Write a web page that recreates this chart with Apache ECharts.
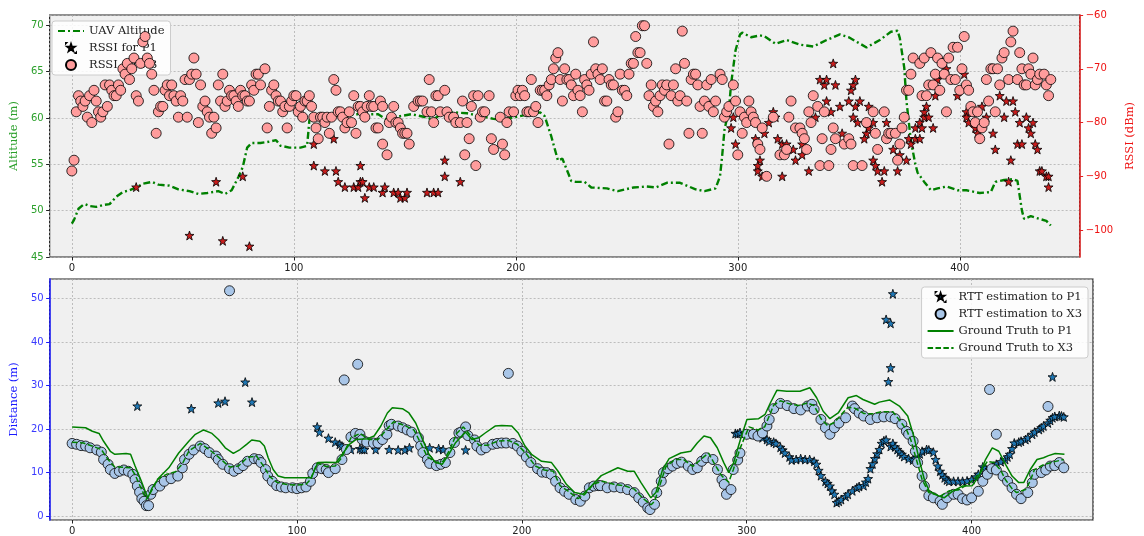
<!DOCTYPE html>
<html>
<head>
<meta charset="utf-8">
<title>UAV altitude / RSSI / RTT</title>
<script src="https://cdn.jsdelivr.net/npm/echarts@6.0.0/dist/echarts.min.js"></script>
<style>
  html, body { margin: 0; padding: 0; background: #fff; }
  #chart { width: 1144px; height: 536px; }
</style>
</head>
<body>
<div id="chart"></div>
<script>
// ---- data (sample index, value) ----
// top panel: UAV altitude (m, left axis)
const altitude = [[0,48.6],[1,49.0],[2,49.6],[3,50.2],[5,50.6],[6,50.7],[8,50.5],[11,50.4],[14,50.6],[17,50.7],[20,51.5],[23,52.0],[26,52.2],[29,52.5],[32,52.9],[36,53.1],[39,52.8],[44,52.7],[48,52.3],[53,52.1],[57,51.8],[61,51.9],[66,52.1],[69,51.8],[72,52.2],[75,53.6],[77,54.7],[79,56.8],[81,57.3],[85,57.3],[88,57.4],[92,57.6],[94,57.0],[98,56.8],[103,56.8],[106,57.0],[107,59.7],[108,60.4],[112,60.4],[117,60.3],[122,60.2],[127,60.4],[132,60.4],[138,60.4],[142,59.8],[148,60.2],[153,60.4],[159,60.1],[163,59.8],[166,60.4],[172,60.6],[178,60.5],[184,60.2],[190,59.9],[194,59.8],[200,60.1],[206,60.4],[211,60.6],[213,60.2],[216,58.0],[219,55.4],[221,55.6],[225,53.2],[227,53.1],[231,53.1],[234,52.5],[241,52.4],[246,52.1],[253,52.5],[259,52.6],[263,52.5],[268,53.0],[274,53.0],[277,52.7],[281,52.3],[285,52.1],[290,52.4],[292,53.7],[293,56.0],[294,58.7],[296,60.9],[297,63.7],[299,67.3],[301,69.0],[302,69.2],[306,68.7],[310,68.9],[312,68.8],[317,68.0],[322,68.4],[328,67.9],[334,67.7],[340,68.4],[346,69.0],[350,68.7],[358,67.6],[364,68.4],[369,69.3],[372,69.4],[373,68.6],[375,65.4],[376,61.8],[378,57.5],[380,55.0],[381,54.1],[384,53.1],[387,52.2],[390,52.4],[394,52.6],[399,52.2],[403,52.2],[409,51.9],[414,52.0],[416,53.1],[420,53.3],[424,53.4],[426,53.2],[428,50.0],[429,49.1],[432,49.4],[436,49.1],[439,48.9],[441,48.4]];

// top panel: RSSI for P1 (dBm, right axis)
const rssiP1 = [[29,-92],[53,-101],[65,-91],[68,-102],[77,-90],[80,-103],[109,-88],[109,-84],[114,-89],[118,-83],[119,-89],[120,-91],[123,-92],[127,-92],[129,-92],[130,-88],[130,-91],[131,-91],[132,-94],[134,-92],[136,-92],[140,-93],[141,-92],[145,-93],[147,-93],[148,-94],[150,-94],[151,-93],[160,-93],[163,-93],[165,-93],[168,-90],[168,-87],[175,-91],
  [297,-81],[298,-79],[299,-84],[308,-83],[309,-89],[310,-87],[309,-88],[311,-90],[312,-82],[314,-80],[316,-78],[317,-79],[318,-83],[320,-84],[320,-90],[322,-84],[325,-85],[326,-87],[329,-86],[329,-84],[332,-89],[335,-79],[337,-72],[339,-73],[340,-72],[343,-69],[344,-73],[340,-76],[342,-78],[346,-77],[347,-82],[350,-76],[351,-74],[352,-73],[353,-72],[352,-79],[353,-77],[354,-80],[355,-76],[358,-80],[359,-77],[358,-82],[357,-83],[359,-81],[361,-80],[361,-87],[362,-88],[363,-89],[365,-91],[366,-89],[367,-80],[370,-85],[372,-89],[373,-86],[376,-87],[377,-83],[378,-84],[380,-83],[382,-80],[382,-83],[380,-81],[383,-81],[384,-79],[384,-78],[385,-77],[386,-79],[388,-81],[389,-75],[390,-72],[392,-71],[394,-70],[399,-75],[402,-71],[403,-78],[403,-79],[404,-80],[407,-81],[408,-82],[410,-77],[412,-79],[415,-82],[416,-85],[418,-75],[420,-79],[421,-76],[424,-76],[425,-78],[423,-87],[422,-91],[426,-84],[428,-84],[427,-80],[430,-79],[431,-81],[432,-82],[433,-80],[434,-84],[435,-85],[436,-89],[437,-89],[439,-90],[440,-90],[440,-92]];

// top panel: RSSI for X3 (dBm, right axis)
const rssiX3 = [[0,-89],[1,-87],[2,-78],[3,-75],[4,-76],[5,-77],[6,-76],[7,-79],[8,-75],[9,-80],[10,-74],[11,-76],[12,-78],[13,-79],[14,-78],[15,-73],[16,-77],[17,-73],[18,-74],[19,-75],[20,-75],[21,-73],[22,-74],[23,-70],[24,-71],[25,-69],[26,-72],[27,-70],[28,-68],[29,-75],[30,-76],[31,-69],[32,-65],[33,-64],[34,-68],[35,-69],[36,-71],[37,-74],[38,-82],[39,-78],[40,-77],[41,-77],[42,-74],[43,-73],[44,-75],[45,-73],[46,-75],[47,-76],[48,-79],[49,-75],[50,-76],[51,-72],[52,-79],[53,-72],[54,-71],[55,-68],[56,-71],[57,-80],[58,-73],[59,-77],[60,-76],[61,-78],[62,-79],[63,-82],[64,-79],[65,-81],[66,-73],[67,-76],[68,-71],[69,-77],[70,-76],[71,-74],[72,-75],[73,-75],[74,-76],[75,-77],[76,-74],[77,-75],[78,-75],[79,-76],[80,-76],[81,-73],[82,-74],[83,-71],[84,-71],[85,-73],[87,-70],[88,-81],[89,-77],[90,-74],[91,-73],[92,-75],[93,-76],[94,-76],[95,-78],[96,-77],[97,-81],[98,-77],[99,-76],[100,-75],[101,-75],[102,-78],[103,-77],[104,-79],[105,-76],[106,-76],[107,-75],[108,-77],[109,-79],[110,-81],[111,-83],[112,-79],[113,-79],[114,-80],[115,-79],[116,-82],[117,-79],[118,-72],[119,-74],[120,-78],[121,-78],[122,-79],[123,-81],[124,-80],[125,-78],[126,-80],[127,-75],[128,-82],[129,-77],[130,-77],[131,-78],[132,-79],[133,-77],[134,-75],[135,-77],[136,-77],[137,-81],
  [138,-81],[139,-76],[140,-77],[140,-84],[142,-86],[143,-80],[144,-79],[145,-77],[146,-80],[147,-80],[148,-81],[149,-82],[150,-82],[151,-82],[152,-84],[154,-77],[156,-76],[157,-76],[158,-76],[160,-78],[161,-72],[162,-78],[163,-80],[164,-75],[165,-75],[166,-78],[168,-74],[169,-78],[170,-79],[172,-79],[173,-80],[175,-80],[176,-76],[177,-86],[178,-80],[179,-83],[180,-77],[181,-75],[182,-88],[183,-75],[184,-79],[185,-78],[186,-78],[188,-75],[189,-83],[190,-85],[193,-79],[194,-84],[195,-86],[196,-80],[197,-78],[199,-78],[200,-75],[201,-74],[202,-75],[203,-74],[204,-75],[205,-78],[206,-78],[207,-72],[208,-78],[209,-77],[210,-80],[211,-74],[212,-74],[213,-74],[214,-75],[215,-73],[216,-72],[217,-70],[218,-68],[219,-67],[220,-72],[221,-76],[222,-70],[223,-72],[224,-72],[225,-73],[226,-75],[227,-71],[228,-74],[229,-75],[230,-78],[231,-72],[232,-73],[233,-74],[234,-71],[235,-65],[236,-70],[237,-71],[238,-72],[239,-70],[240,-76],[241,-76],[242,-72],[243,-73],[244,-73],[245,-79],[246,-78],[247,-71],[248,-74],[249,-74],[250,-75],[251,-71],[252,-69],[253,-69],[254,-64],[255,-67],[256,-67],[257,-62],[258,-62],[259,-69],[260,-75],[261,-73],[262,-77],[263,-76],[264,-78],[265,-75],[266,-73],[267,-74],[268,-73],[269,-84],[270,-75],[271,-73],[272,-70],[273,-76],[274,-75],[275,-63],[276,-69],[277,-76],[278,-82],[279,-72],[280,-71],[281,-71],[282,-73],[283,-77],[284,-82],[285,-76],[286,-73],[287,-77],[288,-72],[289,-78],[290,-76],[292,-71],
  [293,-72],[294,-79],[295,-78],[296,-77],[298,-73],[299,-76],[300,-86],[301,-78],[302,-82],[303,-79],[304,-80],[305,-76],[306,-78],[307,-79],[308,-80],[309,-84],[310,-85],[311,-81],[313,-90],[316,-79],[319,-86],[321,-86],[322,-85],[323,-79],[324,-76],[326,-81],[328,-81],[329,-82],[330,-83],[331,-85],[332,-78],[333,-80],[334,-75],[336,-77],[337,-88],[338,-83],[339,-78],[341,-88],[342,-85],[343,-81],[344,-83],[348,-84],[350,-83],[351,-84],[352,-88],[356,-88],[358,-80],[361,-78],[362,-82],[363,-85],[366,-78],[367,-83],[368,-82],[369,-82],[371,-82],[372,-87],[373,-84],[374,-81],[375,-79],[376,-74],[377,-74],[378,-71],[379,-68],
  [382,-69],[384,-68],[383,-75],[385,-75],[386,-73],[387,-67],[388,-73],[389,-71],[390,-68],[391,-74],[392,-69],[393,-71],[394,-78],[395,-68],[396,-72],[397,-66],[398,-72],[399,-66],[400,-74],[401,-70],[402,-64],[403,-73],[404,-74],[405,-77],[406,-78],[407,-80],[408,-78],[409,-83],[410,-81],[411,-80],[412,-72],[413,-76],[414,-70],[415,-70],[416,-78],[417,-70],[418,-73],[419,-68],[420,-67],[422,-72],[423,-65],[424,-63],[426,-72],[427,-67],[428,-70],[429,-73],[430,-73],[431,-70],[432,-71],[433,-68],[434,-73],[435,-72],[436,-71],[438,-71],[439,-73],[440,-75],[441,-72]];

// bottom panel: RTT estimation to P1 (m)
const rttP1 = [[29,25.3],[53,24.7],[65,26.0],[68,26.4],[77,30.8],[80,26.2],[109,20.5],[110,19.3],[114,17.9],[117,17.0],[119,16.5],[120,16.1],[124,15.3],[128,15.5],[129,15.3],[130,15.3],[135,15.3],[141,15.3],[145,15.2],[148,15.2],[150,15.7],[159,15.7],[163,15.5],[165,15.3],[175,15.2],
  [295,19.0],[296,18.9],[297,19.2],[299,19.0],[301,18.8],[303,18.8],[305,18.5],[307,18.0],[309,17.6],[310,17.2],[312,17.0],[313,16.7],[315,15.8],[316,15.2],[317,14.5],[319,13.6],[320,12.9],[322,13.0],[324,13.2],[326,13.0],[328,13.0],[330,12.6],[331,11.9],[332,10.5],[333,9.3],[335,8.0],[336,7.5],[337,6.9],[338,5.8],[339,5.0],[340,3.1],[341,3.4],[342,3.8],[344,4.5],[345,5.0],[347,5.8],[349,6.5],[350,6.8],[352,7.0],[353,7.8],[354,8.6],[355,10.9],[356,12.0],[357,13.2],[358,14.3],[359,15.3],[360,16.7],[361,17.3],[362,17.5],
  [363,30.9],[364,34.1],[362,45.2],[364,44.3],[365,51.1],[436,32.0],
  [364,16.0],[365,16.7],[366,15.9],[367,15.3],[368,14.7],[369,14.2],[370,13.7],[372,13.2],[374,12.9],[375,13.3],[376,13.6],[377,14.3],[378,14.9],[380,15.3],[381,15.2],[383,14.7],[384,13.0],[385,11.5],[386,10.3],[387,9.5],[388,8.8],[389,8.3],[390,8.0],[392,8.0],[394,8.0],[396,8.0],[398,8.1],[400,8.4],[402,9.0],[403,9.6],[405,11.3],[406,11.0],[408,10.7],[410,11.5],[411,11.9],[413,12.5],[415,13.0],[416,13.6],[417,14.2],[418,15.5],[419,16.8],[421,17.0],[422,17.2],[424,17.6],[425,18.0],[427,18.8],[428,19.3],[430,19.9],[431,20.3],[432,20.7],[434,21.4],[435,22.0],[436,22.6],[437,22.9],[439,23.1],[440,23.0],[441,22.8]];

// bottom panel: RTT estimation to X3 (m)
const rttX3 = [[0,16.7],[2,16.5],[4,16.2],[6,16.1],[8,15.7],[11,15.2],[13,14.7],[14,13.0],[16,11.9],[17,10.7],[19,9.8],[21,10.3],[23,10.6],[25,10.3],[27,9.6],[28,8.4],[29,6.9],[30,5.5],[31,4.0],[32,3.4],[33,2.4],[34,2.4],[35,5.0],[36,6.1],[39,6.9],[41,8.0],[44,8.6],[47,9.2],[49,11.1],[50,13.0],[52,14.2],[54,15.2],[57,16.1],[59,15.5],[61,14.6],[64,13.8],[65,13.0],[67,11.9],[70,10.9],[72,10.3],[74,10.9],[76,11.6],[78,12.6],[81,13.2],[83,13.0],[84,12.3],[86,10.7],[87,9.2],[89,8.0],[91,7.0],[93,6.7],[95,6.5],[98,6.5],[100,6.3],[102,6.5],[104,6.7],[106,8.0],[107,9.8],[109,11.1],[111,10.9],[113,10.7],
  [114,10.0],[117,10.9],[120,13.0],[122,15.3],[124,18.2],[126,19.0],[128,18.8],[129,17.6],[131,17.0],[134,16.8],[136,16.8],[138,17.6],[140,18.8],[141,20.8],[142,21.1],[145,20.7],[147,20.3],[149,19.8],[151,19.3],[154,18.0],[155,16.1],[156,14.6],[158,13.0],[159,12.1],[162,11.6],[164,11.9],[166,12.3],[168,14.6],[170,16.9],[172,19.1],[173,19.3],[175,20.5],[176,18.5],[179,17.5],[180,16.1],[182,15.2],[184,15.7],[187,16.5],[189,16.7],[191,16.8],[193,16.8],[196,16.7],[198,16.1],[200,14.9],[202,13.6],[204,12.3],[207,10.9],[209,10.1],[211,10.0],[213,9.6],[215,8.0],[217,6.5],[219,5.7],[221,5.0],[224,3.8],[226,3.4],[228,4.6],[230,6.5],[232,6.9],[234,7.0],
  [235,7.0],[238,6.5],[241,6.7],[244,6.5],[247,6.1],[250,5.4],[252,4.2],[254,3.2],[256,1.9],[257,1.5],[259,2.7],[260,5.4],[262,8.0],[263,10.0],[265,10.9],[267,11.5],[269,12.1],[271,12.4],[274,11.5],[276,10.7],[278,11.1],[280,12.6],[282,13.4],[285,13.0],[287,10.7],[289,8.4],[290,7.3],[291,5.0],[293,6.1],[294,10.7],[296,12.9],[297,14.5],[300,18.8],[303,18.8],[305,18.4],[307,19.1],[309,20.7],[310,22.2],[312,24.7],[315,25.9],[318,25.4],[321,24.7],[324,24.4],[327,25.3],[329,25.7],[330,24.5],[333,22.2],[335,20.3],[337,18.8],[339,20.3],[341,21.4],[344,22.6],[347,25.3],
  [348,24.7],[350,23.7],[352,23.0],[355,22.2],[358,22.6],[361,22.8],[364,22.8],[366,22.4],[369,21.1],[371,19.5],[372,18.8],[374,17.2],[375,14.9],[376,12.3],[378,9.2],[379,6.9],[381,4.7],[383,4.2],[386,3.4],[387,2.7],[389,4.2],[392,5.0],[394,5.0],[396,4.0],[398,3.7],[400,4.2],[403,5.7],[405,8.0],[407,9.6],[409,10.9],[411,10.6],[414,9.2],[416,8.0],[418,6.5],[420,5.0],[422,4.0],[425,5.4],[427,7.7],[428,9.6],[431,10.0],[433,10.6],[435,11.5],[437,11.6],[439,12.3],[441,11.1],
  [70,51.8],[121,31.3],[127,34.9],[194,32.8],[408,29.1],[411,18.8],[434,25.2]];

// bottom panel: ground truth distances (m)
const truthP1 = [[0,20.5],[6,20.3],[9,19.5],[12,19.0],[14,17.2],[17,14.9],[19,14.2],[24,14.4],[26,14.2],[28,11.5],[30.5,8.4],[32.7,5.4],[33.7,4.2],[35.6,6.5],[38.6,8.8],[43,11.1],[47.4,14.5],[51.9,17.2],[54.8,18.8],[58.5,19.8],[62.2,19.0],[65.1,17.6],[68.1,15.7],[71.7,14.4],[74.7,15.3],[77.6,16.5],[79.9,17.5],[83.5,17.2],[85.5,16.1],[87.2,13.4],[89.4,10.7],[91.6,9.2],[94.6,8.8],[106.4,8.8],[107.9,10.7],[109.3,12.3],[113,12.4],[117.4,12.3],[119.6,13.8],[123.3,16.5],[126.2,17.6],[131.4,17.8],[134.3,18.4],[137.3,20.7],[140.2,23.7],[142.4,24.9],[146.9,24.7],[149.8,23.7],[152.8,21.4],[155.7,17.8],[158.7,14.2],[161.6,12.3],[164.6,11.9],[167.5,14.2],[170.4,16.8],[174.9,19.3],[177.8,17.6],[180.8,18.0],[183.7,19.1],[188.1,20.7],[191.1,20.8],[195.5,20.7],[198.4,19.1],[201.4,16.1],[204.3,14.2],[208.8,12.6],[213.2,12.3],[216.1,10.3],[219.8,7.3],[223.5,5.4],[227.2,5.0],[230.9,6.9],[235.3,9.3],[242.7,11.1],[247.1,10.3],[250,10.3],[253,7.7],[257.4,4.2],[259.6,5.4],[262.6,10.7],[265.5,13.2],[270.7,14.5],[275.1,14.9],[278,16.8],[281,18.4],[283.9,18.0],[286.9,15.7],[289.8,12.3],[292,10.0],[294.2,12.3],[297.2,17.6],[300.1,22.2],[305.3,22.4],[308.2,23.4],[310.5,26.0],[313.4,28.9],[317.8,28.7],[323.7,28.7],[328.1,29.5],[331.1,27.2],[334,24.1],[337,22.4],[340.7,23.7],[345.1,27.2],[348.8,27.7],[351.7,26.8],[356.9,25.7],[359,26.2],[363.5,26.7],[367.9,25.3],[371.6,23.0],[374.5,18.0],[376.7,13.0],[379,8.4],[381.2,5.7],[385.6,4.6],[387.8,4.2],[391.5,5.7],[395.9,6.9],[400.3,7.0],[403.3,9.2],[406.2,13.0],[409.2,15.7],[412.1,14.9],[415.1,11.9],[418,9.2],[421,7.7],[423.2,7.7],[426.1,10.7],[429.1,13.0],[432,13.4],[434.2,13.9],[437.2,14.4],[441.3,14.2]];

const truthX3 = [[0,17.0],[5,16.8],[10,15.9],[13,15.3],[16,13.0],[19,11.3],[23,11.2],[26,11.1],[28,9.5],[31,6.0],[33,3.8],[35,5.5],[38,8.5],[42,9.6],[46,10.2],[49,12.0],[52,15.0],[57,16.7],[61,15.3],[65,13.6],[70,11.3],[74,11.5],[78,13.5],[82,13.8],[85,11.6],[88,9.0],[91,7.8],[95,7.3],[100,7.1],[104,7.3],[106,8.4],[109,12.2],[113,11.4],[117,11.5],[120,13.5],[124,18.0],[128,19.0],[132,17.6],[136,17.6],[140,20.0],[143,21.7],[148,20.8],[152,19.8],[155,16.8],[158,13.6],[162,12.3],[165,12.6],[168,15.3],[171,19.0],[174,20.5],[177,18.6],[181,16.3],[185,16.3],[189,17.2],[194,17.4],[198,16.5],[202,14.3],[206,11.5],[210,10.6],[214,10.3],[217,7.0],[221,5.6],[225,4.0],[228,5.0],[232,7.4],[236,8.0],[241,7.3],[246,6.9],[250,6.2],[254,4.0],[257.5,2.6],[259,3.4],[261,6.5],[264,11.3],[268,13.0],[272,13.0],[276,11.4],[280,13.2],[283,14.5],[286,11.7],[289,9.2],[292,7.8],[294,10.6],[297,15.5],[301,20.5],[305,19.8],[308,20.5],[312,25.5],[315,26.5],[319,25.8],[323,25.4],[327,26.0],[330,25.4],[333,22.4],[336,20.8],[339,21.5],[342,23.3],[345,25.0],[348,24.8],[352,23.6],[356,23.5],[360,24.0],[365,24.0],[368,22.0],[371,19.9],[373,17.5],[375,13.8],[378,8.4],[381,5.4],[386,4.6],[390,5.8],[394,6.0],[397,6.9],[400,8.0],[404,10.0],[407,12.6],[410,12.3],[413,10.5],[415,8.4],[418,6.3],[420,5.4],[424,6.1],[426,8.0],[428,10.7],[432,11.8],[436,12.4],[441,13.0]];

// ---- styling ----
const STAR = 'path://M0,-10L2.35,-3.24L9.51,-3.09L3.8,1.24L5.88,8.09L0,4L-5.88,8.09L-3.8,1.24L-9.51,-3.09L-2.35,-3.24Z'
// same star with two tiny specks at the corners so the legend draws it a bit smaller
const STAR_LEGEND = 'path://M-13,-13L-12.95,-13L-13,-12.95Z M13,13L12.95,13L13,12.95Z M0,-10L2.35,-3.24L9.51,-3.09L3.8,1.24L5.88,8.09L0,4L-5.88,8.09L-3.8,1.24L-9.51,-3.09L-2.35,-3.24Z'
const SERIF = 'DejaVu Serif'
const SANS = 'DejaVu Sans'
const GREEN = '#008000'
const gridLine = { show: true, lineStyle: { color: '#b0b0b0', width: 0.8, type: [2, 2] } }
const minus = v => (v < 0 ? '\u2212' : '') + Math.abs(v)

function xAxisFor (gridIndex) {
  return {
    gridIndex: gridIndex,
    type: 'value',
    min: -10,
    max: 454,
    axisLine: { show: false, onZero: false },
    axisTick: { show: true, length: 3.5, lineStyle: { color: '#222' } },
    axisLabel: { fontFamily: SANS, fontSize: 10, color: '#222', margin: 6, showMinLabel: false, showMaxLabel: false },
    splitLine: gridLine
  }
}

// legend box shared look
function legendBox (extra) {
  return Object.assign({
    orient: 'vertical',
    itemWidth: 26,
    itemHeight: 10,
    itemGap: 5,
    symbolKeepAspect: true,
    padding: [4, 6, 4, 5],
    backgroundColor: 'rgba(255,255,255,0.85)',
    borderColor: '#cccccc',
    borderWidth: 1,
    borderRadius: 3,
    textStyle: { fontFamily: SERIF, fontSize: 11.5, color: '#222' }
  }, extra)
}

const chart = echarts.init(document.getElementById('chart'))

chart.setOption({
  animation: false,
  grid: [
    { left: 45, top: 15, width: 1048, height: 242, show: true, backgroundColor: '#f0f0f0', borderColor: '#222', borderWidth: 1.2 },
    { left: 45, top: 279, width: 1048, height: 241.5, show: true, backgroundColor: '#f0f0f0', borderColor: '#222', borderWidth: 1.2 }
  ],
  xAxis: [xAxisFor(0), xAxisFor(1)],
  yAxis: [
    {
      gridIndex: 0,
      type: 'value',
      position: 'left',
      min: 45,
      max: 71.1,
      name: 'Altitude (m)',
      nameLocation: 'middle',
      nameGap: 26,
      nameTextStyle: { fontFamily: SERIF, fontSize: 11.5, color: '#2ca02c' },
      axisLine: { show: false, onZero: false },
      axisTick: { show: true, length: 3.5, lineStyle: { color: '#222' } },
      axisLabel: { fontFamily: SANS, fontSize: 10, color: '#2ca02c', margin: 6, showMinLabel: true, showMaxLabel: false },
      splitLine: gridLine
    },
    {
      gridIndex: 0,
      type: 'value',
      position: 'right',
      min: -105,
      max: -60,
      name: 'RSSI (dBm)',
      nameLocation: 'middle',
      nameGap: 40,
      nameTextStyle: { fontFamily: SERIF, fontSize: 11.5, color: '#ee1111' },
      axisLine: { show: true, onZero: false, lineStyle: { color: '#e32020', width: 1.5 } },
      axisTick: { show: true, length: 3.5, lineStyle: { color: '#e32020' } },
      axisLabel: { fontFamily: SANS, fontSize: 10, color: '#ee1111', margin: 6, showMinLabel: false, showMaxLabel: true, formatter: minus },
      splitLine: { show: false }
    },
    {
      gridIndex: 1,
      type: 'value',
      position: 'left',
      min: -0.9,
      max: 54.5,
      name: 'Distance (m)',
      nameLocation: 'middle',
      nameGap: 26,
      nameTextStyle: { fontFamily: SERIF, fontSize: 11.5, color: '#1a1aff' },
      axisLine: { show: true, onZero: false, lineStyle: { color: '#1a1aff', width: 1.5 } },
      axisTick: { show: true, length: 3.5, lineStyle: { color: '#1a1aff' } },
      axisLabel: { fontFamily: SANS, fontSize: 10, color: '#3a3aff', margin: 6, showMinLabel: false, showMaxLabel: false },
      splitLine: gridLine
    }
  ],
  legend: [
    // top legend sits under the scatter points, like the twin-axis original
    legendBox({
      z: 1,
      left: 52,
      top: 21,
      data: ['UAV Altitude', { name: 'RSSI for P1', icon: STAR_LEGEND }, 'RSSI for X3']
    }),
    legendBox({
      z: 10,
      right: 56,
      top: 287,
      data: [{ name: 'RTT estimation to P1', icon: STAR_LEGEND }, 'RTT estimation to X3', 'Ground Truth to P1', 'Ground Truth to X3']
    })
  ],
  series: [
    {
      name: 'UAV Altitude',
      type: 'line',
      xAxisIndex: 0,
      yAxisIndex: 0,
      data: altitude,
      symbol: 'none',
      showSymbol: false,
      z: 2,
      lineStyle: { color: GREEN, width: 2.4, type: [7, 3, 2, 3] },
      itemStyle: { color: GREEN, opacity: 0 }
    },
    {
      name: 'RSSI for P1',
      type: 'scatter',
      xAxisIndex: 0,
      yAxisIndex: 1,
      data: rssiP1,
      symbol: STAR,
      symbolSize: 9,
      z: 3,
      itemStyle: { color: '#c81d1d', borderColor: '#000', borderWidth: 0.8, opacity: 1 }
    },
    {
      name: 'RSSI for X3',
      type: 'scatter',
      xAxisIndex: 0,
      yAxisIndex: 1,
      data: rssiX3,
      symbol: 'circle',
      symbolSize: 10,
      z: 3,
      itemStyle: { color: '#ff9c9c', borderColor: '#000', borderWidth: 0.8, opacity: 1 }
    },
    {
      name: 'RTT estimation to P1',
      type: 'scatter',
      xAxisIndex: 1,
      yAxisIndex: 2,
      data: rttP1,
      symbol: STAR,
      symbolSize: 9,
      z: 3,
      itemStyle: { color: '#1f77b4', borderColor: '#000', borderWidth: 0.8, opacity: 1 }
    },
    {
      name: 'RTT estimation to X3',
      type: 'scatter',
      xAxisIndex: 1,
      yAxisIndex: 2,
      data: rttX3,
      symbol: 'circle',
      symbolSize: 10,
      z: 3,
      itemStyle: { color: '#a9c6e8', borderColor: '#000', borderWidth: 0.8, opacity: 1 }
    },
    {
      name: 'Ground Truth to P1',
      type: 'line',
      xAxisIndex: 1,
      yAxisIndex: 2,
      data: truthP1,
      symbol: 'none',
      showSymbol: false,
      z: 4,
      lineStyle: { color: GREEN, width: 1.5 },
      itemStyle: { color: GREEN, opacity: 0 }
    },
    {
      name: 'Ground Truth to X3',
      type: 'line',
      xAxisIndex: 1,
      yAxisIndex: 2,
      data: truthX3,
      symbol: 'none',
      showSymbol: false,
      z: 4,
      lineStyle: { color: GREEN, width: 1.5, type: [5.5, 2.4] },
      itemStyle: { color: GREEN, opacity: 0 }
    }
  ]
})
</script>
</body>
</html>
